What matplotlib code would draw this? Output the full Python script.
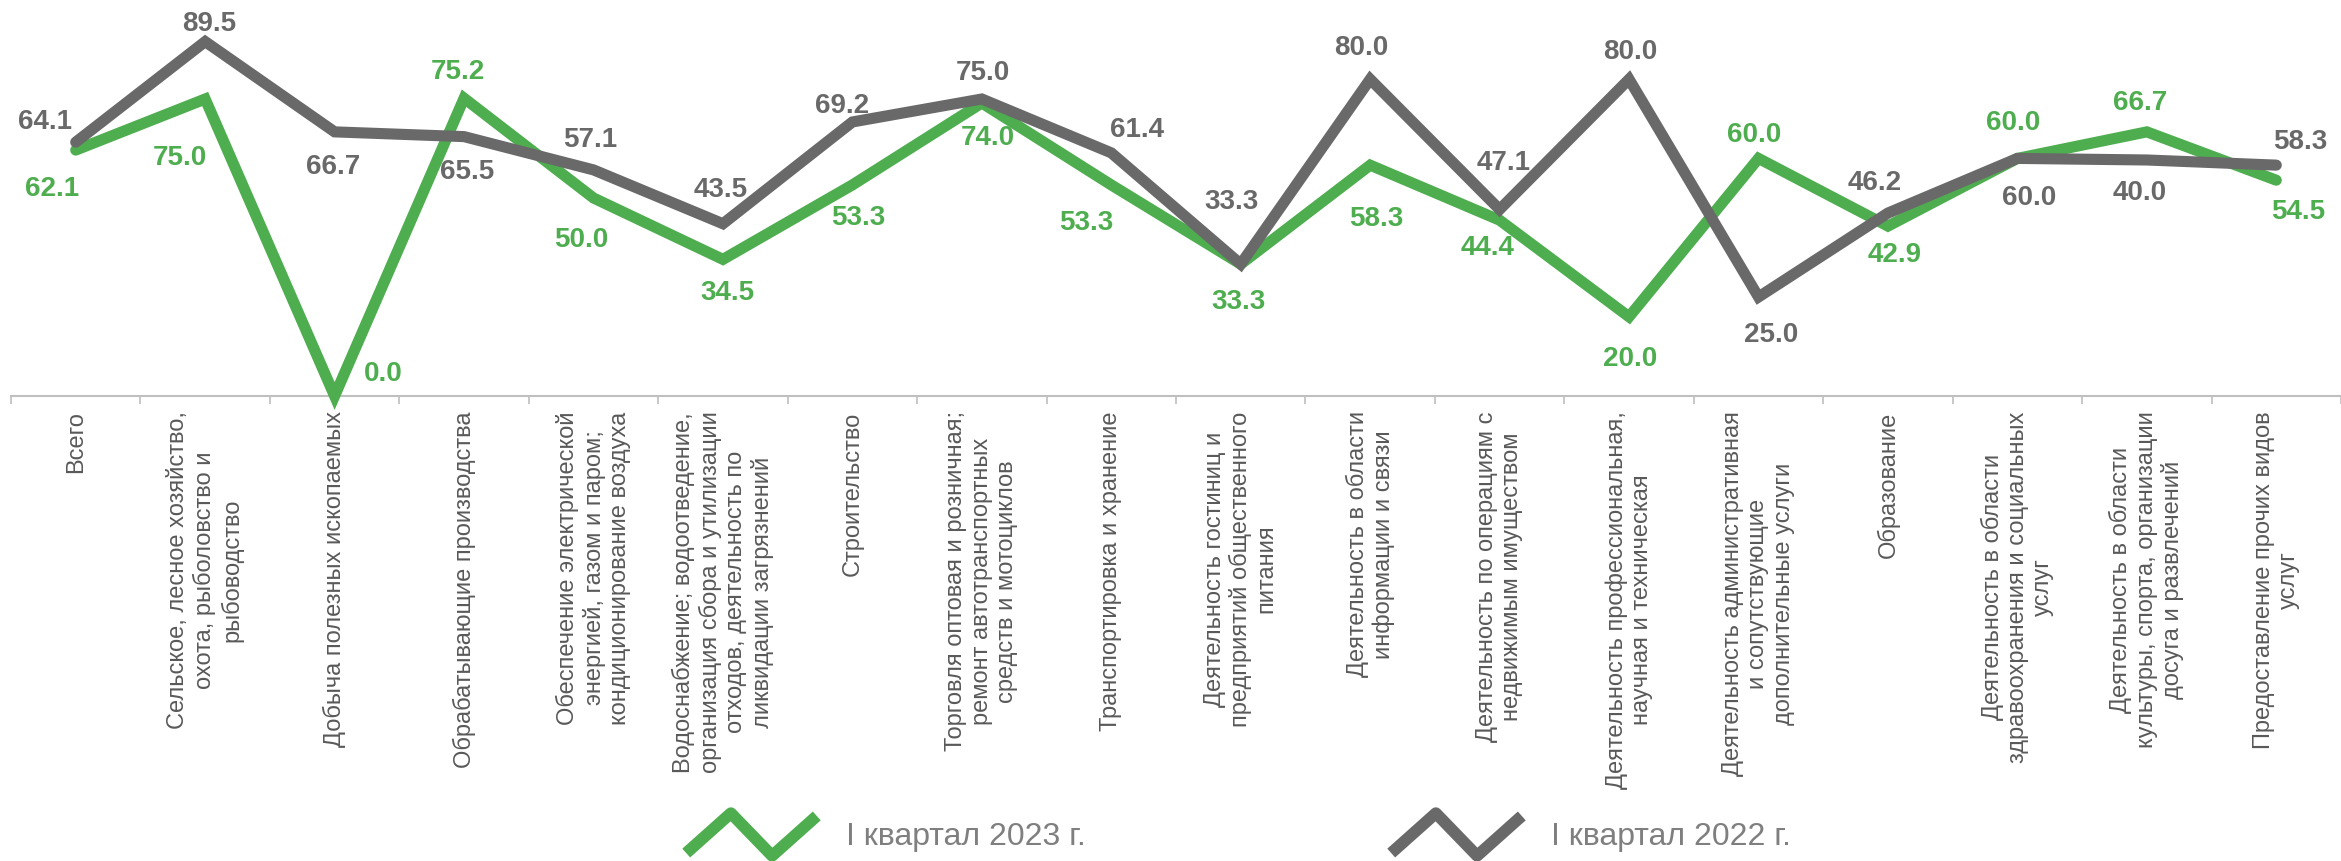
import matplotlib
matplotlib.use("Agg")
import matplotlib.pyplot as plt
from matplotlib.path import Path
from matplotlib.markers import MarkerStyle
from matplotlib.lines import Line2D
import numpy as np

plt.rcParams['font.family'] = ['Liberation Sans', 'DejaVu Sans']

categories = [
    "Всего",
    "Сельское, лесное хозяйство,\nохота, рыболовство и\nрыбоводство",
    "Добыча полезных ископаемых",
    "Обрабатывающие производства",
    "Обеспечение электрической\nэнергией, газом и паром;\nкондиционирование воздуха",
    "Водоснабжение; водоотведение,\nорганизация сбора и утилизации\nотходов, деятельность по\nликвидации загрязнений",
    "Строительство",
    "Торговля оптовая и розничная;\nремонт автотранспортных\nсредств и мотоциклов",
    "Транспортировка и хранение",
    "Деятельность гостиниц и\nпредприятий общественного\nпитания",
    "Деятельность в области\nинформации и связи",
    "Деятельность по операциям с\nнедвижимым имуществом",
    "Деятельность профессиональная,\nнаучная и техническая",
    "Деятельность административная\nи сопутствующие\nдополнительные услуги",
    "Образование",
    "Деятельность в области\nздравоохранения и социальных\nуслуг",
    "Деятельность в области\nкультуры, спорта, организации\nдосуга и развлечений",
    "Предоставление прочих видов\nуслуг",
]

q1_2023 = [62.1, 75.0, 0.0, 75.2, 50.0, 34.5, 53.3, 74.0, 53.3, 33.3,
           58.3, 44.4, 20.0, 60.0, 42.9, 60.0, 66.7, 54.5]
q1_2022 = [64.1, 89.5, 66.7, 65.5, 57.1, 43.5, 69.2, 75.0, 61.4, 33.3,
           80.0, 47.1, 80.0, 25.0, 46.2, 60.0, 59.6, 58.3]
# labels as printed on the chart (the 2022 point for culture is labelled 40.0)
labels_2023 = ["62.1", "75.0", "0.0", "75.2", "50.0", "34.5", "53.3", "74.0", "53.3", "33.3",
               "58.3", "44.4", "20.0", "60.0", "42.9", "60.0", "66.7", "54.5"]
labels_2022 = ["64.1", "89.5", "66.7", "65.5", "57.1", "43.5", "69.2", "75.0", "61.4", "33.3",
               "80.0", "47.1", "80.0", "25.0", "46.2", "60.0", "40.0", "58.3"]
series_names = ["I квартал 2023 г.", "I квартал 2022 г."]

GREEN = "#4EAE4F"
GRAY = "#696969"
LABEL_GRAY = "#595959"
LEGEND_GRAY = "#7F7F7F"

# label offsets in pixels (dx, dy; dy positive = up)
off_2023 = [(-24, -39), (-25, -59), (49, 22), (-6, 26), (-12, -42), (4, -34), (6, -33),
            (6, -35), (-25, -38), (-2, -38), (6, -54), (-12, -28), (1, -42), (-4, 23),
            (7, -29), (-4, 35), (-7, 29), (22, -32)]
off_2022 = [(-31, 20), (4, 18), (-1, -35), (3, -35), (-3, 30), (-2, 34), (-10, 16),
            (1, 26), (26, 23), (-9, 62), (-9, 31), (4, 46), (1, 27), (13, -38),
            (-13, 30), (12, -40), (-7, -33), (24, 23)]

W, H = 2341, 861
fig = plt.figure(figsize=(W / 100, H / 100), dpi=100)
ax = fig.add_axes([11 / W, 1 - 396 / H, (W - 11) / W, 396 / H])

x = np.arange(len(categories))
ax.plot(x, q1_2023, color=GREEN, lw=8, solid_capstyle='round',
        solid_joinstyle='miter', clip_on=False, zorder=3)
ax.plot(x, q1_2022, color=GRAY, lw=8, solid_capstyle='round',
        solid_joinstyle='miter', clip_on=False, zorder=4)

for xi, v, lab, (dx, dy) in zip(x, q1_2023, labels_2023, off_2023):
    ax.annotate(lab, (xi, v), xytext=(dx, dy), textcoords='offset pixels',
                ha='center', va='center', color=GREEN, fontsize=20,
                fontweight='bold', zorder=5, annotation_clip=False)
for xi, v, lab, (dx, dy) in zip(x, q1_2022, labels_2022, off_2022):
    ax.annotate(lab, (xi, v), xytext=(dx, dy), textcoords='offset pixels',
                ha='center', va='center', color=GRAY, fontsize=20,
                fontweight='bold', zorder=5, annotation_clip=False)

ax.set_xlim(-0.5, len(categories) - 0.5)
ax.set_ylim(0, 100)
for s in ['top', 'right', 'left']:
    ax.spines[s].set_visible(False)
ax.spines['bottom'].set_color('#BFBFBF')
ax.spines['bottom'].set_linewidth(1.5)
ax.set_yticks([])
ax.set_xticks(x)
ax.set_xticklabels(categories, rotation=90, ha='center', va='top',
                   multialignment='center', fontsize=17, color=LABEL_GRAY,
                   linespacing=1.2)
ax.tick_params(axis='x', which='major', length=0, pad=11)
ax.set_xticks(np.arange(-0.5, len(categories), 1.0), minor=True)
ax.tick_params(axis='x', which='minor', length=6, width=1.2, color='#BFBFBF')

zig_path = Path([(-0.95, -0.27), (-0.3, 0.31), (0.3, -0.31), (0.95, 0.27)],
                [Path.MOVETO, Path.LINETO, Path.LINETO, Path.LINETO])
zig = MarkerStyle(zig_path, fillstyle='none', capstyle='butt', joinstyle='miter')
handles = [
    Line2D([], [], linestyle='none', marker=zig, markersize=94,
           markeredgecolor=GREEN, markeredgewidth=8.5),
    Line2D([], [], linestyle='none', marker=zig, markersize=94,
           markeredgecolor=GRAY, markeredgewidth=8.5),
]
fig.legend(handles, series_names, loc='center left',
           bbox_to_anchor=(690 / W, 24 / H), ncol=2, frameon=False,
           prop={'size': 23}, labelcolor=LEGEND_GRAY,
           handlelength=3.8, handletextpad=1.07,
           columnspacing=9.7, borderpad=0, borderaxespad=0)

fig.savefig("out.png", dpi=100)
